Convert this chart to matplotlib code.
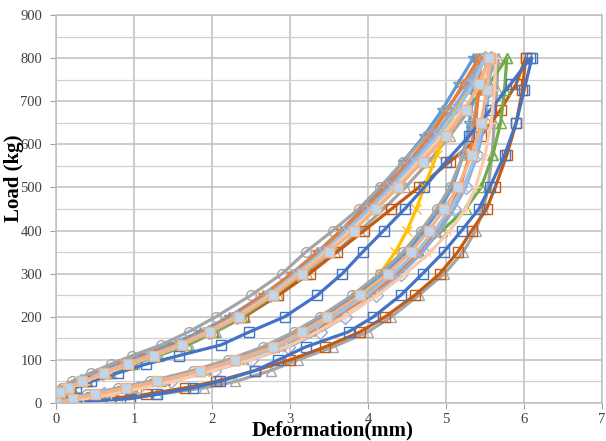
import matplotlib
matplotlib.use("Agg")
import matplotlib.pyplot as plt
from matplotlib.ticker import MultipleLocator

plt.rcParams['font.family'] = ['Liberation Serif', 'DejaVu Serif']

# load levels (kg) for the two branches of each loop
load_upper = [800, 740, 680, 620, 560, 500, 450, 400, 350, 300, 250, 200, 165, 135, 110, 90, 70, 50, 35, 25]
load_lower = [0, 10, 20, 35, 50, 75, 100, 130, 165, 200, 250, 300, 350, 400, 450, 500, 575, 650, 725, 800]

# deformation (mm) read at those loads, one pair of lists per test
s1_up = [6.08, 5.83, 5.57, 5.30, 5.00, 4.72, 4.47, 4.20, 3.93, 3.67, 3.35, 2.93, 2.48, 2.12, 1.58, 1.15, 0.80, 0.45, 0.25, 0.12]
s1_lo = [0.00, 0.95, 1.30, 1.75, 2.10, 2.55, 2.85, 3.20, 3.75, 4.07, 4.42, 4.70, 4.97, 5.20, 5.42, 5.56, 5.75, 5.90, 6.00, 6.10]
s2_up = [6.02, 5.90, 5.70, 5.45, 5.05, 4.65, 4.30, 3.95, 3.60, 3.25, 2.85, 2.40, 2.00, 1.60, 1.25, 0.95, 0.65, 0.38, 0.18, 0.06]
s2_lo = [0.00, 0.70, 1.15, 1.65, 2.05, 2.55, 3.00, 3.45, 3.90, 4.22, 4.60, 4.92, 5.15, 5.33, 5.52, 5.63, 5.78, 5.90, 5.98, 6.02]
s3_up = [5.67, 5.50, 5.30, 5.05, 4.78, 4.48, 4.20, 3.90, 3.58, 3.22, 2.85, 2.42, 2.05, 1.70, 1.32, 1.00, 0.70, 0.40, 0.20, 0.08]
s3_lo = [0.00, 0.80, 1.30, 1.90, 2.30, 2.75, 3.10, 3.55, 4.00, 4.30, 4.65, 4.98, 5.22, 5.38, 5.48, 5.54, 5.59, 5.62, 5.65, 5.67]
s4_up = [5.45, 5.30, 5.10, 4.85, 4.55, 4.25, 3.98, 3.70, 3.40, 3.08, 2.72, 2.30, 1.95, 1.60, 1.25, 0.95, 0.65, 0.36, 0.18, 0.06]
s4_lo = [0.00, 0.30, 0.60, 1.00, 1.40, 1.90, 2.35, 2.80, 3.15, 3.45, 3.85, 4.15, 4.35, 4.50, 4.62, 4.72, 4.88, 5.05, 5.25, 5.42]
s5_up = [5.35, 5.15, 4.95, 4.72, 4.45, 4.18, 3.93, 3.65, 3.35, 3.02, 2.65, 2.22, 1.85, 1.45, 1.10, 0.80, 0.52, 0.28, 0.12, 0.04]
s5_lo = [0.00, 0.20, 0.45, 0.85, 1.25, 1.80, 2.25, 2.72, 3.10, 3.42, 3.85, 4.20, 4.50, 4.72, 4.92, 5.08, 5.22, 5.30, 5.35, 5.38]
s6_up = [5.78, 5.55, 5.25, 4.98, 4.68, 4.38, 4.10, 3.80, 3.50, 3.17, 2.80, 2.38, 2.02, 1.68, 1.30, 0.98, 0.68, 0.38, 0.20, 0.07]
s6_lo = [0.00, 0.30, 0.55, 0.95, 1.35, 1.85, 2.30, 2.80, 3.20, 3.52, 3.95, 4.32, 4.65, 4.95, 5.25, 5.45, 5.60, 5.70, 5.75, 5.78]
s7_up = [5.45, 5.25, 5.00, 4.75, 4.45, 4.15, 3.88, 3.55, 3.20, 2.90, 2.50, 2.05, 1.70, 1.35, 0.98, 0.70, 0.45, 0.20, 0.08, 0.02]
s7_lo = [0.00, 0.15, 0.40, 0.80, 1.20, 1.75, 2.20, 2.65, 3.05, 3.38, 3.80, 4.15, 4.45, 4.68, 4.88, 5.05, 5.22, 5.35, 5.42, 5.45]
s8_up = [5.55, 5.42, 5.25, 5.00, 4.70, 4.38, 4.10, 3.82, 3.50, 3.15, 2.78, 2.35, 1.98, 1.62, 1.25, 0.92, 0.62, 0.33, 0.15, 0.05]
s8_lo = [0.00, 0.22, 0.50, 0.90, 1.30, 1.85, 2.30, 2.78, 3.15, 3.48, 3.90, 4.25, 4.55, 4.78, 4.98, 5.15, 5.33, 5.45, 5.52, 5.57]
s9_up = [5.60, 5.45, 5.22, 4.95, 4.65, 4.35, 4.08, 3.78, 3.47, 3.13, 2.76, 2.33, 1.97, 1.62, 1.27, 0.95, 0.66, 0.37, 0.18, 0.06]
s9_lo = [0.00, 0.35, 0.70, 1.10, 1.50, 2.00, 2.50, 2.95, 3.35, 3.70, 4.12, 4.48, 4.80, 5.05, 5.25, 5.38, 5.50, 5.58, 5.62, 5.64]
s10_up = [5.50, 5.35, 5.15, 4.90, 4.60, 4.30, 4.02, 3.73, 3.42, 3.08, 2.72, 2.30, 1.93, 1.57, 1.20, 0.88, 0.58, 0.30, 0.14, 0.04]
s10_lo = [0.00, 0.25, 0.55, 0.95, 1.35, 1.90, 2.38, 2.85, 3.22, 3.55, 3.98, 4.32, 4.62, 4.85, 5.05, 5.22, 5.38, 5.47, 5.53, 5.57]
s11_up = [5.42, 5.22, 5.02, 4.80, 4.52, 4.22, 3.95, 3.66, 3.36, 3.03, 2.66, 2.25, 1.90, 1.52, 1.16, 0.85, 0.56, 0.30, 0.14, 0.04]
s11_lo = [0.00, 0.28, 0.58, 1.00, 1.42, 1.95, 2.42, 2.90, 3.28, 3.60, 4.02, 4.38, 4.66, 4.88, 5.05, 5.18, 5.30, 5.38, 5.42, 5.44]
s12_up = [5.50, 5.30, 5.08, 4.85, 4.56, 4.27, 4.00, 3.72, 3.42, 3.10, 2.74, 2.32, 1.96, 1.60, 1.22, 0.90, 0.60, 0.32, 0.15, 0.05]
s12_lo = [0.00, 0.30, 0.62, 1.05, 1.48, 2.02, 2.50, 2.98, 3.38, 3.70, 4.10, 4.42, 4.70, 4.92, 5.10, 5.25, 5.40, 5.50, 5.55, 5.58]

x_ticks = [0, 1, 2, 3, 4, 5, 6, 7]
y_ticks = [0, 100, 200, 300, 400, 500, 600, 700, 800, 900]

# (upper, lower, line colour, marker, marker face)
series = [
    (s3_up, s3_lo, '#A5A5A5', '^', 'none'),
    (s2_up, s2_lo, '#C55A11', 's', 'none'),
    (s4_up, s4_lo, '#FFC000', 'x', 'none'),
    (s6_up, s6_lo, '#70AD47', '^', 'none'),
    (s5_up, s5_lo, '#5B9BD5', '*', 'none'),
    (s7_up, s7_lo, '#A5A5A5', 'o', 'none'),
    (s11_up, s11_lo, '#ED7D31', '*', 'none'),
    (s12_up, s12_lo, '#8FAADC', 'D', 'none'),
    (s10_up, s10_lo, '#9DC3E6', 'x', 'none'),
    (s1_up, s1_lo, '#4472C4', 's', 'none'),
    (s9_up, s9_lo, '#F8CBAD', '+', 'none'),
    (s8_up, s8_lo, '#F4B183', 's', '#BDD7EE'),
]

fig = plt.figure(figsize=(6.06, 4.41), dpi=100)
ax = fig.add_axes([56 / 606, 1 - 403 / 441, 546 / 606, 388 / 441])

for up, lo, col, mk, face in series:
    ax.plot(lo + up, load_lower + load_upper, color=col, lw=2.3, marker=mk,
            markersize=7, markerfacecolor=face, markeredgecolor=col, markeredgewidth=1.0)

ax.set_xlim(0, 7)
ax.set_ylim(0, 900)
ax.set_xticks(x_ticks)
ax.set_yticks(y_ticks)
ax.yaxis.set_minor_locator(MultipleLocator(50))
ax.grid(True, which='major', color='#BFBFBF', lw=1.1)
ax.grid(True, which='minor', axis='y', color='#D0D0D0', lw=0.9)
ax.set_axisbelow(True)
for sp in ax.spines.values():
    sp.set_color('#BFBFBF')
    sp.set_linewidth(1.1)
ax.tick_params(which='major', length=4, color='#A0A0A0', labelsize=10.5, labelcolor='#404040')
ax.tick_params(which='minor', length=0)
ax.tick_params(axis='x', pad=3)
ax.tick_params(axis='y', pad=6)

fig.text(333 / 606, 1 - 430 / 441, 'Deformation(mm)', ha='center', va='center',
         fontsize=15, fontweight='bold')
fig.text(14 / 606, 1 - 178 / 441, 'Load (kg)', ha='center', va='center',
         rotation=90, fontsize=15, fontweight='bold')

fig.savefig('out.png', dpi=100)
